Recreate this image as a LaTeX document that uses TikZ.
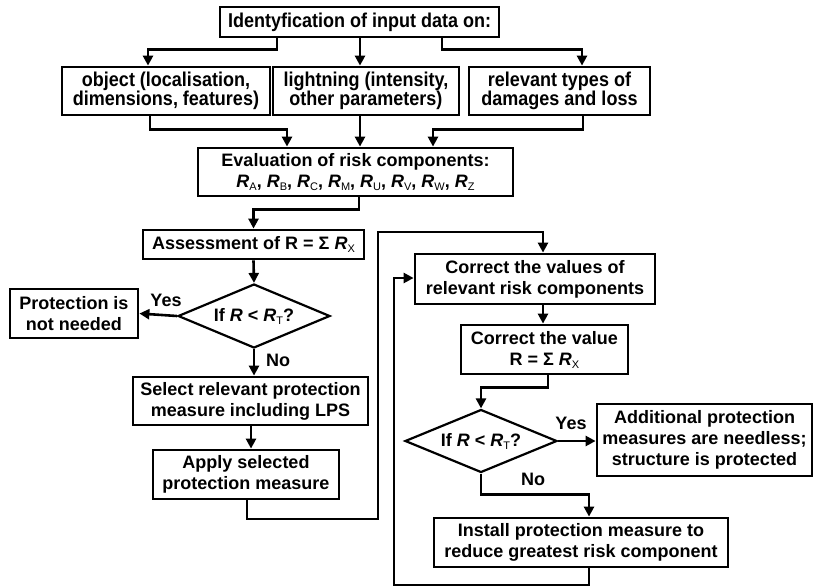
\documentclass[tikz,border=0pt]{standalone}
\usepackage{fontspec}
\setmainfont{Liberation Sans}
\newfontfamily\narrowf[FakeStretch=0.9]{Liberation Sans}
\usetikzlibrary{arrows.meta,shapes.geometric}
\newcommand\subx[1]{\raisebox{-3pt}{\fontsize{11}{11}\selectfont\mdseries\upshape #1}}
\newcommand\RRx[1]{\textit{R}\subx{#1}}
\begin{document}
\begin{tikzpicture}[x=1pt,y=-1pt,
  box/.style={draw, line width=2.8pt, inner sep=0pt, align=center,
    font=\fontsize{18}{21}\selectfont\bfseries},
  tbox/.style={box, font=\narrowf\fontsize{20}{19}\selectfont\bfseries},
  dec/.style={draw, diamond, aspect=2.375, line width=2.2pt, inner sep=0pt,
    font=\fontsize{18}{21}\selectfont\bfseries},
  conn/.style={line width=2.6pt, -{Triangle[length=10pt,width=10pt]}},
  lbl/.style={inner sep=0pt, font=\fontsize{18}{21}\selectfont\bfseries}]
\useasboundingbox (0,0) rectangle (814,587);
% nodes
\node[tbox, minimum width=279pt, minimum height=30pt] (top) at (359.5,22) {Identyfication of input data on:};
\node[tbox, minimum width=208pt, minimum height=48pt] (obj) at (166,91) {object (localisation,\\dimensions, features)};
\node[tbox, minimum width=186pt, minimum height=48pt] (light) at (366,91) {lightning (intensity,\\other parameters)};
\node[tbox, minimum width=181pt, minimum height=48pt] (rel) at (559.5,91) {relevant types of\\damages and loss};
\node[box, minimum width=315pt, minimum height=48pt] (eval) at (355.5,172) {Evaluation of risk components:\\\RRx{A}, \RRx{B}, \RRx{C}, \RRx{M}, \RRx{U}, \RRx{V}, \RRx{W}, \RRx{Z}};
\node[box, minimum width=221pt, minimum height=29pt] (assess) at (253.5,244.5) {Assessment of R = Σ \RRx{X}};
\node[dec, minimum width=152pt, minimum height=64pt] (dia1) at (254,316) {If \textit{R} < \RRx{T}?};
\node[box, minimum width=128pt, minimum height=49pt] (prot) at (74,313.5) {Protection is\\not needed};
\node[box, minimum width=235pt, minimum height=48pt] (select) at (250.5,401) {Select relevant protection\\measure including LPS};
\node[box, minimum width=186pt, minimum height=49pt] (apply) at (246,474.5) {Apply selected\\protection measure};
\node[box, minimum width=240pt, minimum height=50pt] (corr1) at (535,279) {Correct the values of\\relevant risk components};
\node[box, minimum width=167pt, minimum height=49pt] (corr2) at (544.5,349.5) {Correct the value\\R = Σ \RRx{X}};
\node[dec, minimum width=152pt, minimum height=63pt] (dia2) at (481,441) {If \textit{R} < \RRx{T}?};
\node[box, minimum width=215pt, minimum height=72pt] (addl) at (704.5,440) {Additional protection\\measures are needless;\\structure is protected};
\node[box, minimum width=294pt, minimum height=49pt] (install) at (581,542.5) {Install protection measure to\\reduce greatest risk component};
% labels
\node[lbl] (yes1) at (166,300) {Yes};
\node[lbl] (no1) at (278,360) {No};
\node[lbl] (yes2) at (571,423) {Yes};
\node[lbl] (no2) at (533,479) {No};
% loop coordinates
\coordinate (ja) at (378,519);
\coordinate (jb) at (378,232);
\coordinate (jc) at (394,585);
\coordinate (jd) at (394,278);
% connectors
\draw[conn] ([xshift=-82.5pt]top.south) -- ++(0,11) -| ([xshift=-18pt]obj.north);
\draw[conn] ([xshift=0.5pt]top.south) -- ([xshift=-6pt]light.north);
\draw[conn] ([xshift=82.5pt]top.south) -- ++(0,11) -| ([xshift=22.5pt]rel.north);
\draw[conn] ([xshift=-16pt]obj.south) -- ++(0,13) -| ([xshift=-68.5pt]eval.north);
\draw[conn] ([xshift=-6pt]light.south) -- ([xshift=4.5pt]eval.north);
\draw[conn] ([xshift=23.5pt]rel.south) -- ++(0,13) -| ([xshift=77.5pt]eval.north);
\draw[conn] ([xshift=3.5pt]eval.south) -- ++(0,12) -| (assess.north);
\draw[conn] (assess.south) -- (dia1.north);
\draw[conn] (dia1.west) -- (prot.east);
\draw[conn] (dia1.south) -- (dia1.south |- select.north);
\draw[conn] ([xshift=0.5pt]select.south) -- ([xshift=0.5pt]select.south |- apply.north);
\draw[conn] ([xshift=1pt]apply.south) |- (ja) -- (jb) -| ([xshift=8pt]corr1.north);
\draw[conn] ([xshift=8pt]corr1.south) -- ([xshift=8pt]corr1.south |- corr2.north);
\draw[conn] ([xshift=3.5pt]corr2.south) -- ++(0,12) -| (dia2.north);
\draw[conn] (dia2.east) -- (dia2.east -| addl.west);
\draw[conn] (dia2.south) -- ++(0,21) -| ([xshift=8pt]install.north);
\draw[conn] ([xshift=8pt]install.south) |- (jc) -- (jd) -- (jd -| corr1.west);
\end{tikzpicture}
\end{document}
